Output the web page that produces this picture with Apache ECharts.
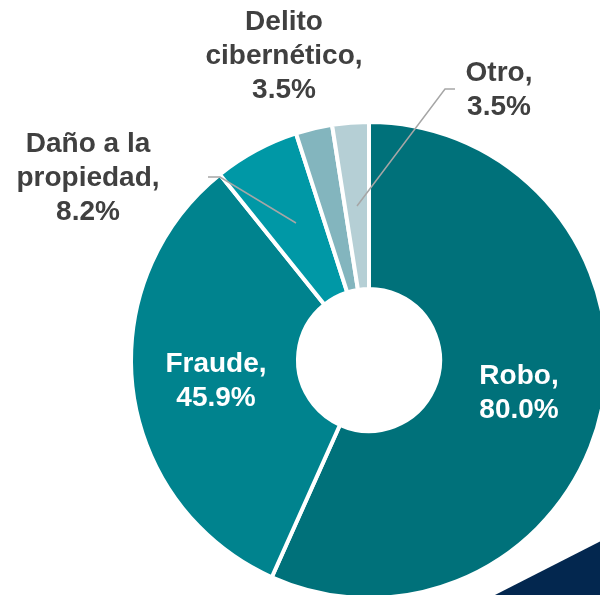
<!DOCTYPE html>
<html>
<head>
<meta charset="utf-8">
<script src="https://cdn.jsdelivr.net/npm/echarts@6/dist/echarts.min.js"></script>
<style>
  html, body { margin: 0; padding: 0; background: #fff; }
  #chart { width: 600px; height: 595px; }
</style>
</head>
<body>
<div id="chart"></div>
<script>
// categorias y valores (%)
var categories = ['Robo', 'Fraude', 'Daño a la\npropiedad', 'Delito\ncibernético', 'Otro'];
var values = [80.0, 45.9, 8.2, 3.5, 3.5];
var colors = ['#00717A', '#00838E', '#0098A6', '#83B5BE', '#B5CFD5'];
var insideLabel = [true, true, false, false, false];

// donde van las etiquetas (centro del bloque) y lineas guia
var labelPos = [[519, 393], [216, 381], [88, 178], [284, 56], [499, 90]];
var guideLines = {
    2: [[296, 223], [220, 177], [208, 177]],
    4: [[357, 206], [445, 89], [455, 89]]
};

var chart = echarts.init(document.getElementById('chart'));

// serie de sectores
var sliceData = categories.map(function (name, i) {
    return { name: name, value: values[i], itemStyle: { color: colors[i] } };
});

// serie de etiquetas, encima, para que las lineas guia queden sobre los sectores
var labelData = categories.map(function (name, i) {
    var item = { name: name, value: values[i] };
    item.label = { color: insideLabel[i] ? '#ffffff' : '#404040' };
    if (!guideLines[i]) {
        item.labelLine = { show: false };
    }
    return item;
});

var pieBase = {
    type: 'pie',
    center: [369, 360],
    radius: [71, 238],
    startAngle: 90,
    clockwise: true,
    silent: true
};

chart.setOption({
    animation: false,
    graphic: [{
        type: 'polygon',
        shape: { points: [[493, 596], [601, 541], [601, 596]] },
        style: { fill: '#03274F' },
        z: 0
    }],
    series: [
        Object.assign({}, pieBase, {
            z: 2,
            itemStyle: { borderColor: '#ffffff', borderWidth: 4 },
            label: { show: false },
            labelLine: { show: false },
            data: sliceData
        }),
        Object.assign({}, pieBase, {
            z: 4,
            itemStyle: { color: 'rgba(0,0,0,0)', borderWidth: 0 },
            label: {
                show: true,
                position: 'outside',
                overflow: 'none',
                formatter: function (p) {
                    return p.name + ',\n' + p.value.toFixed(1) + '%';
                },
                fontFamily: '"Liberation Sans", Arial, sans-serif',
                fontWeight: 'bold',
                fontSize: 28,
                lineHeight: 34,
                align: 'center'
            },
            labelLine: {
                show: true,
                lineStyle: { color: '#A6A6A6', width: 1.5 }
            },
            labelLayout: function (params) {
                var i = params.dataIndex;
                var out = {
                    x: labelPos[i][0],
                    y: labelPos[i][1],
                    align: 'center',
                    verticalAlign: 'middle'
                };
                if (guideLines[i]) {
                    out.labelLinePoints = guideLines[i];
                }
                return out;
            },
            data: labelData
        })
    ]
});
</script>
</body>
</html>
